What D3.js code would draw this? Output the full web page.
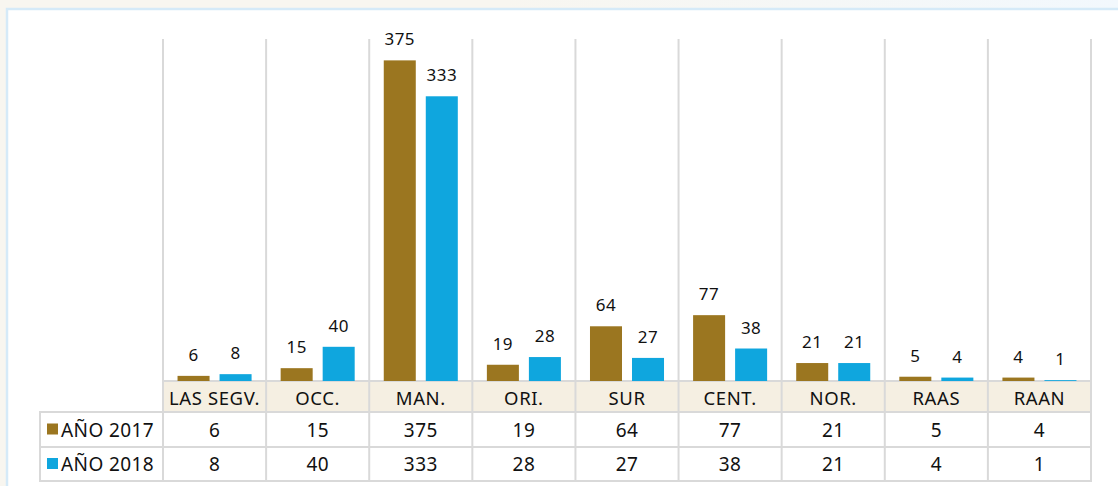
<!DOCTYPE html>
<html>
<head>
<meta charset="utf-8">
<script src="https://cdn.jsdelivr.net/npm/d3@7"></script>
<style>
  body { margin: 0; background: linear-gradient(90deg, #f8f6f0 0%, #f8f6f0 45%, #f2f8fd 100%); }
  svg { display: block; font-family: "Noto Sans", "Open Sans", sans-serif; }
</style>
</head>
<body>
<svg id="chart" width="1118" height="486"></svg>
<script>
// data
const categories = ["LAS SEGV.", "OCC.", "MAN.", "ORI.", "SUR", "CENT.", "NOR.", "RAAS", "RAAN"]
const seriesNames = ["AÑO 2017", "AÑO 2018"]
const values2017 = [6, 15, 375, 19, 64, 77, 21, 5, 4]
const values2018 = [8, 40, 333, 28, 27, 38, 21, 4, 1]
const colors = ["#9b7620", "#0fa6de"]

const series = [values2017, values2018]

const svg = d3.select("#chart")

// white panel with light blue frame
svg.append("rect")
    .attr("x", 7).attr("y", 9)
    .attr("width", 1130).attr("height", 500)
    .attr("fill", "#fff")
    .attr("stroke", "#d5eaf8")
    .attr("stroke-width", 2.5)

const plotLeft = 163, plotRight = 1091
const plotTop = 39, baseY = 381
const rowH = [31, 35, 34]   // header, 2017, 2018
const tableLeft = 40

const x = d3.scaleBand()
    .domain(categories)
    .range([plotLeft, plotRight])
    .padding(0)

const xInner = d3.scaleBand()
    .domain(seriesNames)
    .range([0, x.bandwidth()])
    .paddingInner(0.238)
    .paddingOuter(0.346)

const y = d3.scaleLinear()
    .domain([0, 400])
    .range([baseY, plotTop])

const gridColor = "#d9d9d9"

// header row fill
const headerTop = baseY, headerBot = baseY + rowH[0]
const row1Bot = headerBot + rowH[1]
const row2Bot = row1Bot + rowH[2]

svg.append("rect")
    .attr("x", plotLeft).attr("y", headerTop)
    .attr("width", plotRight - plotLeft).attr("height", rowH[0])
    .attr("fill", "#f5efe2")

// vertical grid lines through plot and table
const boundaries = categories.map(c => x(c)).concat([plotRight])
svg.append("g").selectAll("line")
    .data(boundaries)
    .join("line")
    .attr("x1", d => d).attr("x2", d => d)
    .attr("y1", plotTop).attr("y2", row2Bot)
    .attr("stroke", gridColor).attr("stroke-width", 2)

// left border of the row label column
svg.append("line")
    .attr("x1", tableLeft).attr("x2", tableLeft)
    .attr("y1", headerBot).attr("y2", row2Bot)
    .attr("stroke", gridColor).attr("stroke-width", 2)

// horizontal table lines
const hLines = [
    {y: headerTop, x1: plotLeft},
    {y: headerBot, x1: tableLeft},
    {y: row1Bot, x1: tableLeft},
    {y: row2Bot, x1: tableLeft}
]
svg.append("g").selectAll("line")
    .data(hLines)
    .join("line")
    .attr("x1", d => d.x1 - 1).attr("x2", plotRight + 1)
    .attr("y1", d => d.y).attr("y2", d => d.y)
    .attr("stroke", gridColor).attr("stroke-width", 2)

// bars
const groups = svg.append("g").selectAll("g")
    .data(categories)
    .join("g")
    .attr("transform", d => `translate(${x(d)},0)`)

groups.selectAll("rect")
    .data((c, i) => seriesNames.map((s, k) => ({s, k, v: series[k][i]})))
    .join("rect")
    .attr("x", d => xInner(d.s))
    .attr("width", xInner.bandwidth())
    .attr("y", d => y(d.v))
    .attr("height", d => baseY - y(d.v))
    .attr("fill", d => colors[d.k])

groups.selectAll("text")
    .data((c, i) => seriesNames.map((s, k) => ({s, k, v: series[k][i]})))
    .join("text")
    .attr("x", d => xInner(d.s) + xInner.bandwidth() / 2)
    .attr("y", d => y(d.v) - 15)
    .attr("text-anchor", "middle")
    .attr("font-size", 17)
    .attr("letter-spacing", 0.5)
    .attr("fill", "#111")
    .text(d => d.v)

// header labels
svg.append("g").selectAll("text")
    .data(categories)
    .join("text")
    .attr("x", d => x(d) + x.bandwidth() / 2)
    .attr("y", headerTop + 24)
    .attr("text-anchor", "middle")
    .attr("font-size", 18.5)
    .attr("letter-spacing", 0.6)
    .attr("fill", "#111")
    .text(d => d)

// data rows
const rowMid = [headerBot + rowH[1] / 2, row1Bot + rowH[2] / 2]

series.forEach((vals, k) => {
    svg.append("rect")
        .attr("x", 47).attr("y", rowMid[k] - 6)
        .attr("width", 11).attr("height", 11)
        .attr("fill", colors[k])
    svg.append("text")
        .attr("x", 61).attr("y", rowMid[k] + 7)
        .attr("font-size", 19)
        .attr("letter-spacing", 0.4)
        .attr("fill", "#111")
        .text(seriesNames[k])
    svg.append("g").selectAll("text")
        .data(vals)
        .join("text")
        .attr("x", (d, i) => x(categories[i]) + x.bandwidth() / 2)
        .attr("y", rowMid[k] + 7)
        .attr("text-anchor", "middle")
        .attr("font-size", 19)
        .attr("letter-spacing", 0.4)
        .attr("fill", "#111")
        .text(d => d)
})
</script>
</body>
</html>
